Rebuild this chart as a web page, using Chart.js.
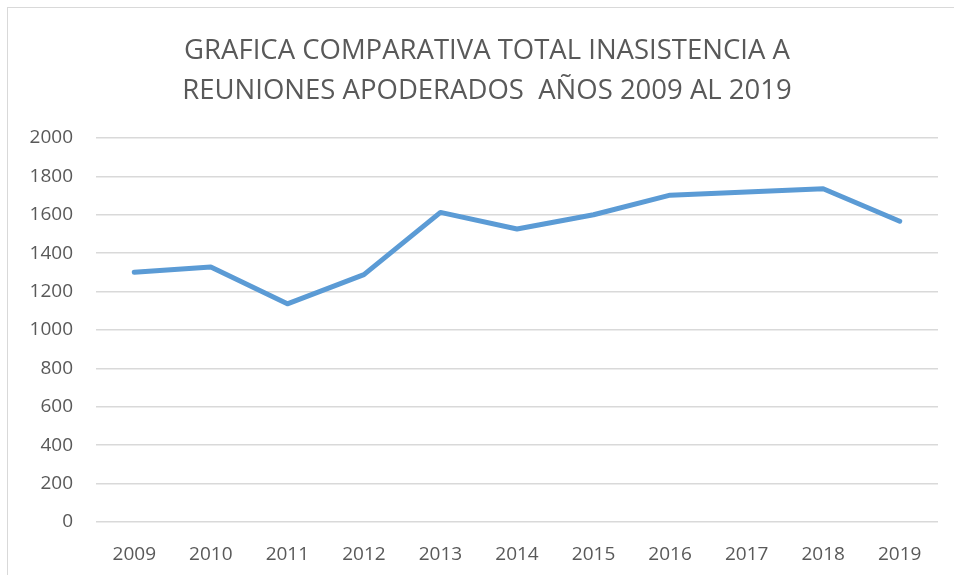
<!DOCTYPE html>
<html>
<head>
<meta charset="utf-8">
<script src="https://cdn.jsdelivr.net/npm/chart.js@4/dist/chart.umd.min.js"></script>
<style>
  html, body { margin: 0; padding: 0; background: #fff; }
  #wrap { position: relative; width: 954px; height: 575px; overflow: hidden; }
  #frame {
    position: absolute; left: 7px; top: 7px; width: 960px; height: 580px;
    border-left: 1.5px solid #d9d9d9; border-top: 1.5px solid #d9d9d9;
  }
  canvas { position: absolute; left: 0; top: 0; }
</style>
</head>
<body>
<div id="wrap">
  <div id="frame"></div>
  <canvas id="chart" width="954" height="575"></canvas>
</div>
<script>
const years = ["2009", "2010", "2011", "2012", "2013", "2014", "2015", "2016", "2017", "2018", "2019"];
const inasistencia = [1300, 1328, 1136, 1288, 1612, 1526, 1600, 1702, 1718, 1735, 1566];
const titleLines = ["GRAFICA COMPARATIVA TOTAL INASISTENCIA A", "REUNIONES APODERADOS  AÑOS 2009 AL 2019"];
const yMin = 0, yMax = 2000, yStep = 200;

const textColor = "#595959";
const gridColor = "#d9d9d9";
const fontFamily = "'Open Sans', 'Liberation Sans', sans-serif";

// the original title sits a bit right of the canvas centre
const shiftTitle = {
  id: "shiftTitle",
  afterLayout(chart) {
    if (chart.titleBlock) chart.titleBlock.left = 36;
  },
};

new Chart(document.getElementById("chart").getContext("2d"), {
  type: "line",
  data: {
    labels: years,
    datasets: [
      {
        label: "Inasistencia",
        data: inasistencia,
        borderColor: "#5b9bd5",
        backgroundColor: "#5b9bd5",
        borderWidth: 5,
        pointRadius: 0,
        tension: 0,
        borderCapStyle: "round",
        borderJoinStyle: "round",
      },
    ],
  },
  plugins: [shiftTitle],
  options: {
    responsive: false,
    animation: false,
    layout: { padding: { left: 0, right: 16, top: 0, bottom: 0 } },
    plugins: {
      legend: { display: false },
      tooltip: { enabled: false },
      title: {
        display: true,
        text: titleLines,
        color: textColor,
        font: { family: fontFamily, size: 27.5, weight: "normal", lineHeight: 1.48 },
        padding: { top: 30.5, bottom: 26 },
      },
    },
    scales: {
      x: {
        offset: true,
        grid: { display: false },
        border: { display: false },
        ticks: {
          color: textColor,
          font: { family: fontFamily, size: 19 },
          padding: 13,
          maxRotation: 0,
        },
        afterFit: (scale) => { scale.height = 53; },
      },
      y: {
        min: yMin,
        max: yMax,
        grid: { color: gridColor, lineWidth: 1.5, drawTicks: false },
        border: { display: false },
        ticks: {
          stepSize: yStep,
          color: textColor,
          font: { family: fontFamily, size: 19 },
          padding: 23,
          callback: (value) => String(value),
        },
        afterFit: (scale) => { scale.width = 96; },
      },
    },
  },
});
</script>
</body>
</html>
